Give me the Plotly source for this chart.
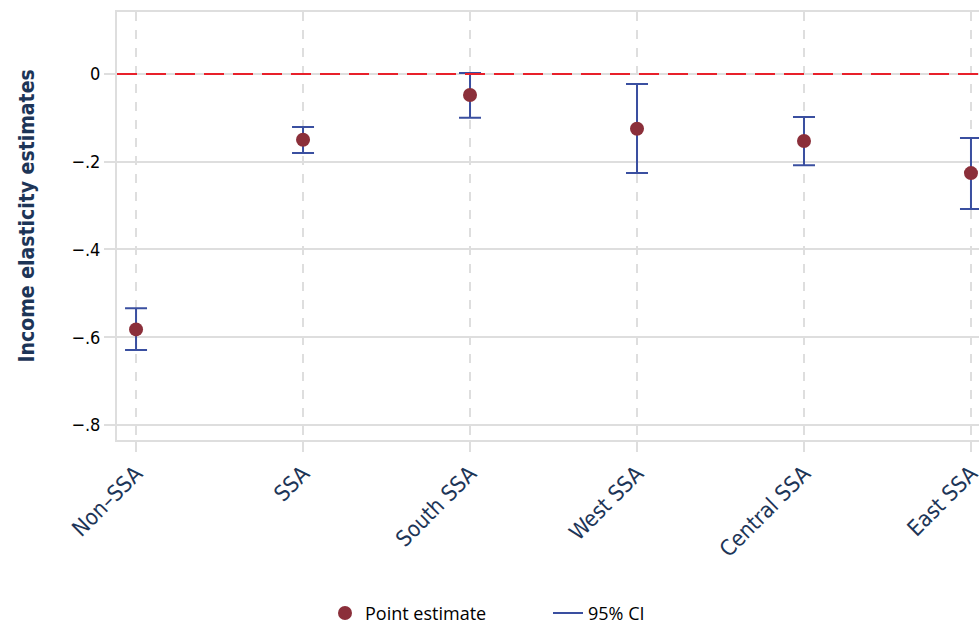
import plotly.graph_objects as go

categories = ["Non\u2013SSA", "SSA", "South SSA", "West SSA", "Central SSA", "East SSA"]
point_est = [-0.582, -0.150, -0.048, -0.125, -0.153, -0.226]
ci_upper = [-0.534, -0.121, 0.002, -0.023, -0.098, -0.146]
ci_lower = [-0.629, -0.180, -0.100, -0.226, -0.208, -0.308]
y_tickvals = [0, -0.2, -0.4, -0.6, -0.8]
y_ticktext = ["0", "\u2212.2", "\u2212.4", "\u2212.6", "\u2212.8"]
y_title = "Income elasticity estimates"

idx = list(range(len(categories)))
err_plus = [u - p for u, p in zip(ci_upper, point_est)]
err_minus = [p - l for p, l in zip(point_est, ci_lower)]

navy = "#1d3557"
blue = "#3a4fa0"
maroon = "#8b2f3a"
grid = "#dedede"
cond = "DejaVu Sans Condensed"

fig = go.Figure()
fig.add_trace(go.Scatter(
    x=idx, y=point_est, mode="markers",
    marker=dict(size=1, color="rgba(0,0,0,0)"),
    error_y=dict(type="data", symmetric=False, array=err_plus, arrayminus=err_minus,
                 color=blue, thickness=2, width=11),
    showlegend=False, hoverinfo="skip", cliponaxis=False))
fig.add_trace(go.Scatter(
    x=idx, y=point_est, mode="markers", name="Point estimate",
    marker=dict(size=14, color=maroon), cliponaxis=False))
fig.add_trace(go.Scatter(
    x=[None], y=[None], mode="lines", name="95% CI",
    line=dict(color=blue, width=2)))

fig.add_hline(y=0, line=dict(color="#e8202a", width=2, dash="20px,9px"), layer="above")

fig.add_annotation(
    text="<b>" + y_title + "</b>", textangle=-90,
    xref="paper", yref="paper", x=-0.104, y=0.523,
    xanchor="center", yanchor="middle", showarrow=False,
    font=dict(family=cond, size=21, color=navy))

fig.update_layout(
    width=979, height=629,
    margin=dict(l=117, r=0, t=12, b=189, autoexpand=False),
    plot_bgcolor="white", paper_bgcolor="white",
    font=dict(family=cond, color="black"),
    showlegend=True,
    legend=dict(orientation="h", x=0.5, xanchor="center", y=-0.405, yanchor="middle",
                font=dict(family="Open Sans, sans-serif", size=18, color="black"),
                traceorder="normal", entrywidth=178, entrywidthmode="pixels"),
    xaxis=dict(
        range=[-0.114, 5.048], automargin=False,
        tickmode="array", tickvals=idx, ticktext=categories,
        tickangle=-45, tickfont=dict(family=cond, size=22, color=navy),
        ticklabeloverflow="allow",
        showgrid=True, gridcolor=grid, gridwidth=2, griddash="dash",
        showline=True, linecolor=grid, linewidth=2, mirror=True,
        ticks="outside", ticklen=10, tickcolor=grid, tickwidth=2,
        zeroline=False),
    yaxis=dict(
        range=[-0.834, 0.141], automargin=False,
        tickmode="array", tickvals=y_tickvals, ticktext=y_ticktext,
        tickfont=dict(family=cond, size=18, color="black"),
        showgrid=True, gridcolor=grid, gridwidth=2,
        showline=True, linecolor=grid, linewidth=2, mirror=True,
        ticks="outside", ticklen=11, tickcolor=grid, tickwidth=2,
        zeroline=False),
)

fig.write_html("out.html", config={"displayModeBar": False},
               post_script="document.body.style.margin='0';document.body.style.overflow='hidden';")
